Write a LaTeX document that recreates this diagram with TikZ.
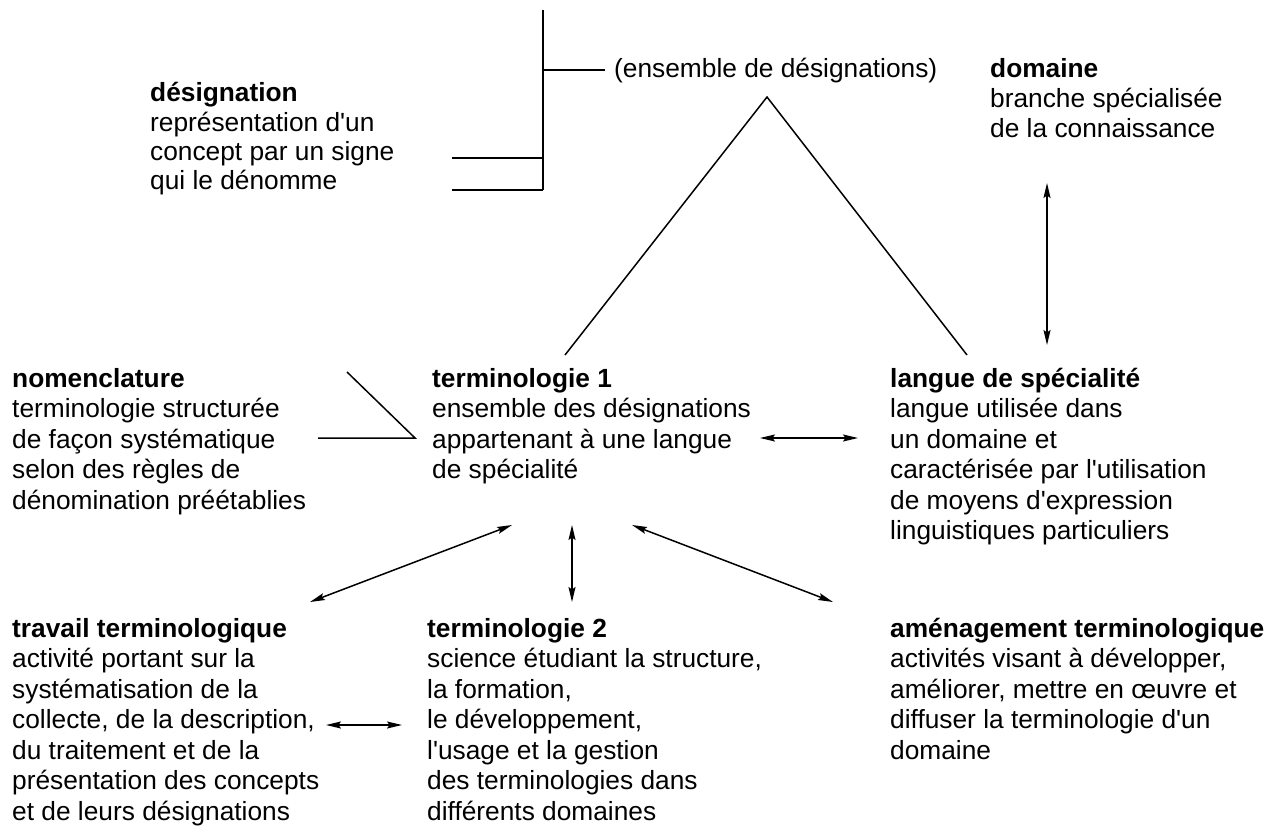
\documentclass[tikz,border=0pt]{standalone}
\usepackage{fontspec}
\setmainfont{Liberation Sans}
\usetikzlibrary{arrows.meta}
\newcommand{\blk}[2]{\begin{tabular}[t]{@{}l@{}}\textbf{#1}\\#2\end{tabular}}
\newcommand{\ap}{\textquotesingle}
\tikzset{
  txt/.style={anchor=base west, inner sep=0pt, font=\fontsize{26.3}{30.5}\selectfont},
  ln/.style={line width=1.5pt},
  dbl/.style={line width=1.5pt, {Stealth[length=15pt,width=7pt,inset=2.5pt]}-{Stealth[length=15pt,width=7pt,inset=2.5pt]}}
}
\begin{document}
\begin{tikzpicture}[x=1pt,y=-1pt]
\useasboundingbox (0,0) rectangle (1279,832);
% texts
\node[txt,font=\fontsize{26.3}{29.2}\selectfont] (des) at (150,102) {\blk{désignation}{représentation d\ap un\\concept par un signe\\qui le dénomme}};
\node[txt] (ens) at (614,78) {(ensemble de désignations)};
\node[txt,font=\fontsize{26.3}{29.5}\selectfont] (dom) at (990,78) {\blk{domaine}{branche spécialisée\\de la connaissance}};
\node[txt] (nom) at (12,387) {\blk{nomenclature}{terminologie structurée\\de façon systématique\\selon des règles de\\dénomination préétablies}};
\node[txt] (t1) at (432,387) {\blk{terminologie 1}{ensemble des désignations\\appartenant à une langue\\de spécialité}};
\node[txt] (lsp) at (890,387) {\blk{langue de spécialité}{langue utilisée dans\\un domaine et\\caractérisée par l\ap utilisation\\de moyens d\ap expression\\linguistiques particuliers}};
\node[txt] (tt) at (12,637) {\blk{travail terminologique}{activité portant sur la\\systématisation de la\\collecte, de la description,\\du traitement et de la\\présentation des concepts\\et de leurs désignations}};
\node[txt] (t2) at (427,637) {\blk{terminologie 2}{science étudiant la structure,\\la formation,\\le développement,\\l\ap usage et la gestion\\des terminologies dans\\différents domaines}};
\node[txt] (am) at (890,637) {\blk{aménagement terminologique}{activités visant à développer,\\améliorer, mettre en œuvre et\\diffuser la terminologie d\ap un\\domaine}};
% coordinates
\coordinate (vtop) at (543,10);
\coordinate (vbot) at (543,190);
\coordinate (vmid) at (543,70);
\coordinate (ensL) at (605,70);
\coordinate (d1) at (452,158);
\coordinate (d1r) at (543,158);
\coordinate (d2) at (452,190);
\coordinate (apex) at (767,97);
\coordinate (triL) at (565,355);
\coordinate (triR) at (967,355);
\coordinate (nA) at (347,372);
\coordinate (nB) at (415,438);
\coordinate (nC) at (318,438);
\coordinate (domA) at (1047,183);
\coordinate (domB) at (1047,345);
\coordinate (t1R) at (760,438);
\coordinate (lspL) at (858,438);
\coordinate (t1a) at (512,525);
\coordinate (tta) at (310,602);
\coordinate (t1b) at (572,525);
\coordinate (t2b) at (572,602);
\coordinate (t1c) at (632,525);
\coordinate (amc) at (833,602);
\coordinate (ttR) at (326,725);
\coordinate (t2L) at (402,725);
% lines
\draw[ln] (vtop) -- (vbot);
\draw[ln] (vmid) -- (ensL);
\draw[ln] (d1) -- (d1r);
\draw[ln] (d2) -- (vbot);
\draw[ln] (triL) -- (apex) -- (triR);
\draw[ln] (nA) -- (nB) -- (nC);
\draw[dbl] (domA) -- (domB);
\draw[dbl] (t1R) -- (lspL);
\draw[dbl] (t1a) -- (tta);
\draw[dbl] (t1b) -- (t2b);
\draw[dbl] (t1c) -- (amc);
\draw[dbl] (ttR) -- (t2L);
\end{tikzpicture}
\end{document}
